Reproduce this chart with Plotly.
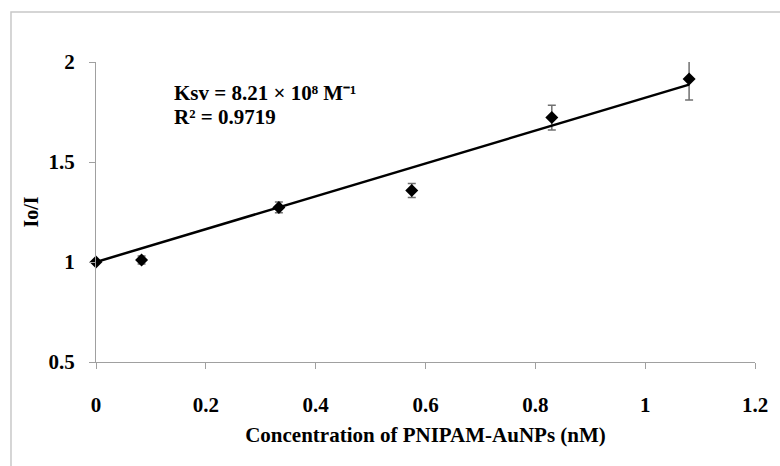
import plotly.graph_objects as go

# Data
conc_nM = [0.0, 0.083, 0.333, 0.575, 0.83, 1.08]
io_over_i = [1.0, 1.01, 1.273, 1.357, 1.722, 1.915]
err = [0.0, 0.02, 0.027, 0.035, 0.062, 0.105]
slope = 0.821
intercept = 1.0
fit_x = [0.0, 1.08]
fit_y = [intercept + slope * x for x in fit_x]

x_ticks = [0, 0.2, 0.4, 0.6, 0.8, 1, 1.2]
x_tick_labels = ["0", "0.2", "0.4", "0.6", "0.8", "1", "1.2"]
y_ticks = [0.5, 1, 1.5, 2]
y_tick_labels = ["0.5", "1", "1.5", "2"]

font_family = "Liberation Serif"

fig = go.Figure()
fig.add_trace(go.Scatter(
    x=conc_nM, y=io_over_i, mode="markers",
    marker=dict(symbol="diamond", size=10, color="black"),
    error_y=dict(type="data", array=err, visible=True, color="#707070",
                 thickness=1.5, width=4),
    showlegend=False, cliponaxis=False,
))
fig.add_trace(go.Scatter(
    x=fit_x, y=fit_y, mode="lines",
    line=dict(color="black", width=2.5),
    showlegend=False, cliponaxis=False,
))

fig.add_annotation(
    x=0.139, y=1.845, xref="x", yref="y", xanchor="left", yanchor="middle",
    text="<b>Ksv = 8.21 × 10⁸ M⁻¹</b>",
    showarrow=False, align="left",
    font=dict(family=font_family, size=21, color="black"),
)
fig.add_annotation(
    x=0.139, y=1.725, xref="x", yref="y", xanchor="left", yanchor="middle",
    text="<b>R² = 0.9719</b>",
    showarrow=False, align="left",
    font=dict(family=font_family, size=21, color="black"),
)

# outer frame
fig.add_shape(type="rect", xref="paper", yref="paper",
              x0=-0.129, x1=1.04, y0=-0.4, y1=1.1667,
              line=dict(color="#c8c8c8", width=1.5), fillcolor="rgba(0,0,0,0)",
              layer="below")

fig.update_layout(
    width=780, height=466,
    margin=dict(l=96, r=18, t=62, b=104),
    plot_bgcolor="white", paper_bgcolor="white",
    font=dict(family=font_family, size=16, color="black"),
    xaxis=dict(
        range=[0, 1.2], tickvals=x_ticks,
        ticktext=["<b>%s</b>" % t for t in x_tick_labels],
        showgrid=False, zeroline=False, showline=True, linecolor="#a0a0a0",
        linewidth=1, ticks="outside", ticklen=6, tickcolor="#a0a0a0",
        ticklabelstandoff=18,
        tickfont=dict(family=font_family, size=21, color="black"),
        title=dict(text="<b>Concentration of PNIPAM-AuNPs (nM)</b>",
                   font=dict(family=font_family, size=21), standoff=11),
    ),
    yaxis=dict(
        range=[0.5, 2], tickvals=y_ticks,
        ticktext=["<b>%s</b>" % t for t in y_tick_labels],
        showgrid=False, zeroline=False, showline=True, linecolor="#a0a0a0",
        linewidth=1, ticks="outside", ticklen=6, tickcolor="#a0a0a0",
        ticklabelstandoff=10,
        tickfont=dict(family=font_family, size=21, color="black"),
        title=dict(text="<b>Io/I</b>", font=dict(family=font_family, size=20),
                   standoff=4),
    ),
)

fig.write_html("out.html")
